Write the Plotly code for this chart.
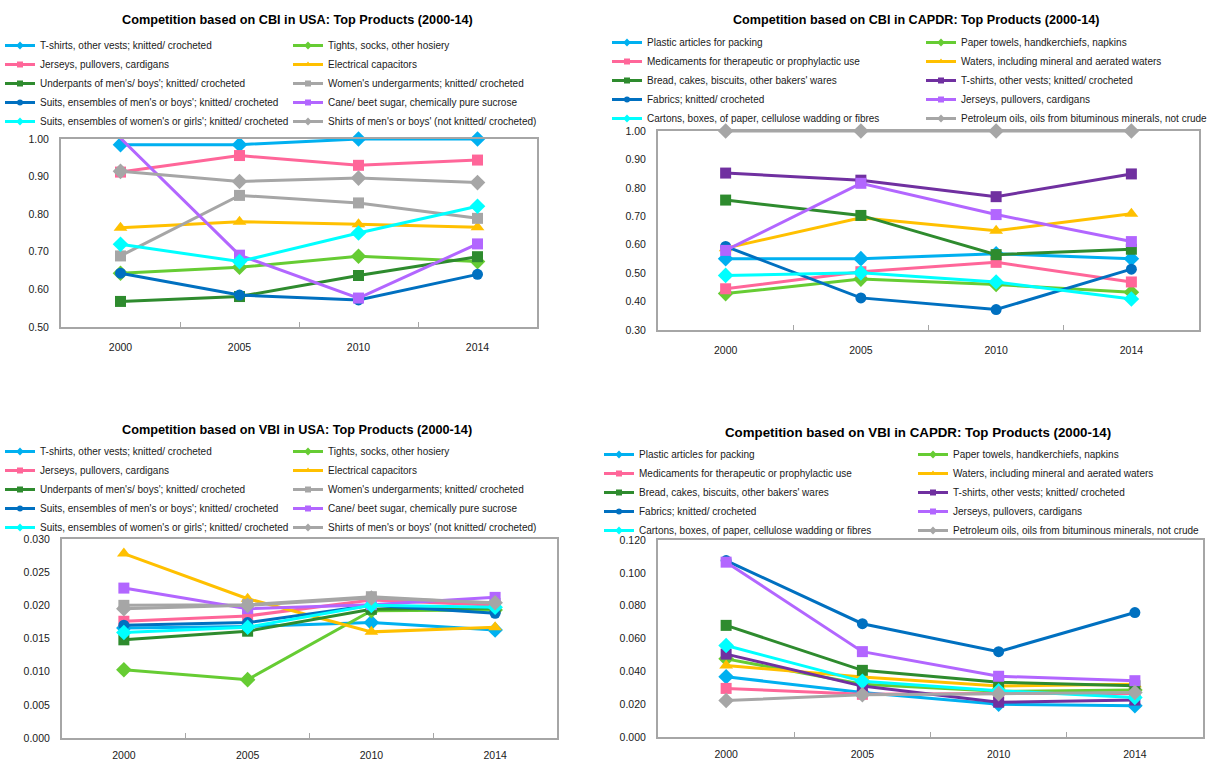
import plotly.graph_objects as go

W, H = 1214, 763
FONT = "Liberation Sans, Arial, sans-serif"

years = ["2000", "2005", "2010", "2014"]

usa_products = [
    "T-shirts, other vests; knitted/ crocheted",
    "Tights, socks, other hosiery",
    "Jerseys, pullovers, cardigans",
    "Electrical capacitors",
    "Underpants of men's/ boys'; knitted/ crocheted",
    "Women's undergarments; knitted/ crocheted",
    "Suits, ensembles of men's or boys'; knitted/ crocheted",
    "Cane/ beet sugar, chemically pure sucrose",
    "Suits, ensembles of women's or girls'; knitted/ crocheted",
    "Shirts of men's or boys' (not knitted/ crocheted)",
]

capdr_products = [
    "Plastic articles for packing",
    "Paper towels, handkerchiefs, napkins",
    "Medicaments for therapeutic or prophylactic use",
    "Waters, including mineral and aerated waters",
    "Bread, cakes, biscuits, other bakers' wares",
    "T-shirts, other vests; knitted/ crocheted",
    "Fabrics; knitted/ crocheted",
    "Jerseys, pullovers, cardigans",
    "Cartons, boxes, of paper, cellulose wadding or fibres",
    "Petroleum oils, oils from bituminous minerals, not crude",
]

cbi_usa = [
    [0.985, 0.985, 1.000, 1.000],
    [0.643, 0.659, 0.688, 0.674],
    [0.912, 0.956, 0.930, 0.944],
    [0.764, 0.780, 0.773, 0.765],
    [0.568, 0.581, 0.637, 0.687],
    [0.689, 0.850, 0.830, 0.789],
    [0.643, 0.585, 0.572, 0.640],
    [1.002, 0.691, 0.577, 0.721],
    [0.720, 0.674, 0.750, 0.821],
    [0.914, 0.887, 0.896, 0.884],
]

cbi_capdr = [
    [0.551, 0.551, 0.568, 0.551],
    [0.428, 0.479, 0.460, 0.433],
    [0.445, 0.505, 0.538, 0.469],
    [0.588, 0.695, 0.649, 0.709],
    [0.757, 0.703, 0.565, 0.584],
    [0.852, 0.827, 0.769, 0.849],
    [0.594, 0.413, 0.372, 0.514],
    [0.580, 0.816, 0.706, 0.611],
    [0.492, 0.501, 0.469, 0.409],
    [1.000, 1.000, 1.000, 1.000],
]

vbi_usa = [
    [0.0166, 0.0168, 0.0174, 0.0163],
    [0.0103, 0.0088, 0.0192, 0.0193],
    [0.0176, 0.0184, 0.0208, 0.0200],
    [0.0278, 0.0210, 0.0160, 0.0167],
    [0.0148, 0.0161, 0.0194, 0.0196],
    [0.0200, 0.0201, 0.0213, 0.0203],
    [0.0170, 0.0174, 0.0200, 0.0188],
    [0.0226, 0.0195, 0.0201, 0.0212],
    [0.0159, 0.0167, 0.0200, 0.0197],
    [0.0195, 0.0200, 0.0211, 0.0204],
]

vbi_capdr = [
    [0.0367, 0.0271, 0.0200, 0.0190],
    [0.0476, 0.0322, 0.0278, 0.0286],
    [0.0296, 0.0260, 0.0265, 0.0265],
    [0.0436, 0.0365, 0.0310, 0.0322],
    [0.0680, 0.0406, 0.0333, 0.0312],
    [0.0505, 0.0310, 0.0212, 0.0225],
    [0.1075, 0.0690, 0.0520, 0.0758],
    [0.1065, 0.0520, 0.0370, 0.0343],
    [0.0557, 0.0339, 0.0282, 0.0241],
    [0.0222, 0.0257, 0.0264, 0.0271],
]

C_LBLUE = "#00B0F0"
C_GREEN = "#66CC33"
C_PINK = "#FF6699"
C_GOLD = "#FFC000"
C_DGREEN = "#2E8B2E"
C_GRAY = "#A6A6A6"
C_BLUE = "#0070C0"
C_LPURP = "#B266FF"
C_CYAN = "#00FFFF"
C_DPURP = "#7030A0"

usa_styles = [
    (C_LBLUE, "diamond"), (C_GREEN, "diamond"), (C_PINK, "square"), (C_GOLD, "triangle-up"),
    (C_DGREEN, "square"), (C_GRAY, "square"), (C_BLUE, "circle"), (C_LPURP, "square"),
    (C_CYAN, "diamond"), (C_GRAY, "diamond"),
]
capdr_styles = [
    (C_LBLUE, "diamond"), (C_GREEN, "diamond"), (C_PINK, "square"), (C_GOLD, "triangle-up"),
    (C_DGREEN, "square"), (C_DPURP, "square"), (C_BLUE, "circle"), (C_LPURP, "square"),
    (C_CYAN, "diamond"), (C_GRAY, "diamond"),
]
msize = {"diamond": 12, "square": 11, "triangle-up": 12, "circle": 11}

panels = [
    dict(title="Competition based on CBI in USA: Top Products (2000-14)", tx=297, ty=20, tsize=12.7,
         box=(61, 537, 139, 327), yr=[0.5, 1.0], dtick=0.1, fmt=".2f",
         names=usa_products, vals=cbi_usa, styles=usa_styles,
         leg=((0, 31), (288, 31)), xstand=9),
    dict(title="Competition based on CBI in CAPDR: Top Products (2000-14)", tx=916, ty=20, tsize=12.6,
         box=(658, 1199, 131, 330), yr=[0.3, 1.0], dtick=0.1, fmt=".2f",
         names=capdr_products, vals=cbi_capdr, styles=capdr_styles,
         leg=((607, 28), (921, 28)), xstand=9),
    dict(title="Competition based on VBI in USA: Top Products (2000-14)", tx=297, ty=430, tsize=12.7,
         box=(62, 557, 539, 738), yr=[0.0, 0.03], dtick=0.005, fmt=".3f",
         names=usa_products, vals=vbi_usa, styles=usa_styles,
         leg=((0, 437), (288, 437)), xstand=6),
    dict(title="Competition based on VBI in CAPDR: Top Products (2000-14)", tx=918, ty=432, tsize=13.3,
         box=(658, 1203, 540, 737), yr=[0.0, 0.12], dtick=0.02, fmt=".3f",
         names=capdr_products, vals=vbi_capdr, styles=capdr_styles,
         leg=((599, 440), (913, 440)), xstand=6),
]

fig = go.Figure()
layout = dict(
    width=W, height=H,
    margin=dict(l=0, r=0, t=0, b=0, autoexpand=False),
    paper_bgcolor="white", plot_bgcolor="white",
    font=dict(family=FONT, size=10, color="#1a1a1a"),
    annotations=[],
)

leg_count = 0
for pi, p in enumerate(panels):
    n = pi + 1
    xa = "x" if n == 1 else f"x{n}"
    ya = "y" if n == 1 else f"y{n}"
    x0, x1, y0, y1 = p["box"]
    legs = []
    for (lx, ly) in p["leg"]:
        leg_count += 1
        lid = "legend" if leg_count == 1 else f"legend{leg_count}"
        legs.append(lid)
        layout[lid] = dict(
            x=lx / W, y=1 - ly / H, xanchor="left", yanchor="top",
            bgcolor="rgba(0,0,0,0)", borderwidth=0, orientation="v",
            traceorder="normal", tracegroupgap=0, itemwidth=30,
            font=dict(family=FONT, size=10, color="#1a1a1a"),
        )
    for i, (name, vals, (col, sym)) in enumerate(zip(p["names"], p["vals"], p["styles"])):
        fig.add_trace(go.Scatter(
            x=years, y=vals, name=name, mode="lines+markers",
            line=dict(color=col, width=3),
            marker=dict(color=col, symbol=sym, size=msize[sym]),
            xaxis=xa, yaxis=ya, showlegend=False, cliponaxis=False,
            hoverinfo="x+y+name",
        ))
        # legend key for this series (small marker as in the original legend)
        fig.add_trace(go.Scatter(
            x=[None], y=[None], name=name, mode="lines+markers",
            line=dict(color=col, width=3),
            marker=dict(color=col, symbol=sym, size=6),
            xaxis=xa, yaxis=ya, showlegend=True, legend=legs[i % 2],
        ))
    xkey = "xaxis" if n == 1 else f"xaxis{n}"
    ykey = "yaxis" if n == 1 else f"yaxis{n}"
    layout[xkey] = dict(
        domain=[x0 / W, x1 / W], anchor=ya, type="category",
        categoryorder="array", categoryarray=years, range=[-0.5, 3.5],
        showline=True, mirror=True, linecolor="#A6A6A6", linewidth=2,
        ticks="inside", tickson="boundaries", ticklen=5, tickwidth=1, tickcolor="#A6A6A6",
        showgrid=False, zeroline=False, fixedrange=True,
        tickfont=dict(family=FONT, size=10.5, color="#1a1a1a"),
        ticklabelstandoff=p["xstand"],
    )
    layout[ykey] = dict(
        domain=[1 - y1 / H, 1 - y0 / H], anchor=xa, range=p["yr"],
        dtick=p["dtick"], tick0=0, tickformat=p["fmt"],
        showline=True, mirror=True, linecolor="#A6A6A6", linewidth=2,
        ticks="", showgrid=False, zeroline=False, fixedrange=True,
        tickfont=dict(family=FONT, size=10.5, color="#1a1a1a"),
        ticklabelstandoff=8,
    )
    layout["annotations"].append(dict(
        text="<b>" + p["title"] + "</b>", x=p["tx"] / W, y=1 - p["ty"] / H,
        xref="paper", yref="paper", xanchor="center", yanchor="middle",
        showarrow=False, font=dict(family=FONT, size=p["tsize"], color="#000000"),
    ))

fig.update_layout(**layout)
fig.write_html("out.html", config={"displayModeBar": False},
               post_script="document.body.style.margin='0';")
